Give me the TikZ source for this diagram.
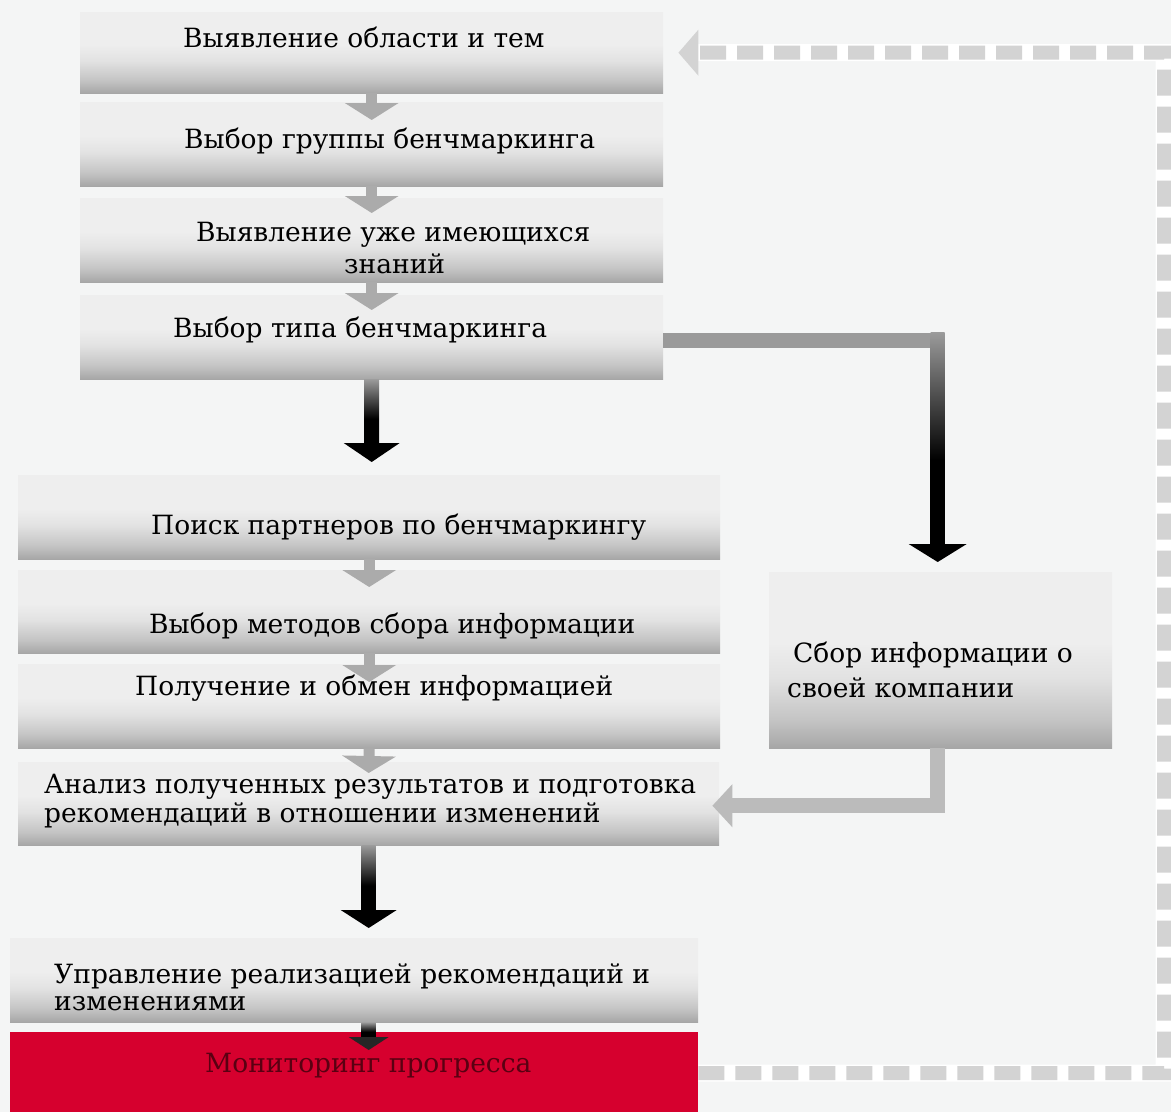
\documentclass[tikz,border=0pt]{standalone}
\usepackage{fontspec}
\setmainfont{DejaVu Serif}
\usetikzlibrary{arrows.meta,calc}
\definecolor{bg}{HTML}{F4F5F5}
\definecolor{boxbot}{HTML}{A6A6A6}
\definecolor{boxlow}{HTML}{C4C4C4}
\definecolor{boxmid}{HTML}{E2E2E2}
\definecolor{boxtop}{HTML}{EEEEEE}
\definecolor{arrgray}{HTML}{9A9A9A}
\definecolor{smallgray}{HTML}{ABABAB}
\definecolor{linkgray}{HTML}{BBBBBB}
\definecolor{dashgray}{HTML}{D3D3D3}
\definecolor{redbox}{HTML}{D6002E}
\definecolor{redtext}{HTML}{5A0012}
\pgfdeclareverticalshading{boxshade}{100bp}{color(0bp)=(boxbot); color(25bp)=(boxbot); color(33bp)=(boxlow); color(45bp)=(boxmid); color(55bp)=(boxtop); color(100bp)=(boxtop)}
\pgfdeclareverticalshading{arrshade}{100bp}{color(0bp)=(black); color(25bp)=(black); color(45bp)=(black); color(75bp)=(arrgray); color(100bp)=(arrgray)}
\tikzset{
  stepbox/.style={rectangle, draw=none, shade, shading=boxshade, inner sep=0pt, anchor=north west},
  redstep/.style={rectangle, draw=none, fill=redbox, inner sep=0pt, anchor=north west},
  lbl/.style={inner sep=0pt, anchor=base west, font=\fontsize{26.5}{30}\selectfont},
  smallarr/.style={draw=smallgray, line width=11pt, -{Triangle[width=53pt,length=17pt]}},
  linkarr/.style={draw=linkgray, line width=15pt, line join=miter, -{Triangle[width=42pt,length=20pt]}},
  fbline/.style={draw=dashgray, line width=14pt, dash pattern=on 26pt off 11pt, -{Triangle[width=45pt,length=20pt]}},
  fbunder/.style={draw=white, line width=17pt, shorten >=16pt},
}
\begin{document}
\begin{tikzpicture}[x=1pt,y=-1pt]
\useasboundingbox (0,0) rectangle (1171,1112);
\fill[bg] (0,0) rectangle (1171,1112);
\clip (0,0) rectangle (1171,1112);

% boxes
\node[stepbox, minimum width=583pt, minimum height=81pt] (b1) at (80,12) {};
\node[stepbox, minimum width=583pt, minimum height=84pt] (b2) at (80,102) {};
\node[stepbox, minimum width=583pt, minimum height=84pt] (b3) at (80,198) {};
\node[stepbox, minimum width=583pt, minimum height=84pt] (b4) at (80,295) {};
\node[stepbox, minimum width=702pt, minimum height=84pt] (b5) at (18,475) {};
\node[stepbox, minimum width=702pt, minimum height=83pt] (b6) at (18,570) {};
\node[stepbox, minimum width=702pt, minimum height=84pt] (b7) at (18,664) {};
\node[stepbox, minimum width=701pt, minimum height=83pt] (b8) at (18,762) {};
\node[stepbox, minimum width=688pt, minimum height=84pt] (b9) at (10,938) {};
\node[redstep, minimum width=688pt, minimum height=82pt] (b10) at (10,1032) {};
\node[stepbox, minimum width=343pt, minimum height=176pt] (b11) at (769,572) {};

% feedback dashed loop
\coordinate (fbA) at (1164,1073);
\coordinate (fbB) at (1164,52.5);
\draw[fbunder] (b10.east) -- (fbA) -- (fbB) -- ($(b1.east)+(15,0)$);
\draw[fbline] (b10.east) -- (fbA) -- (fbB) -- ($(b1.east)+(15,0)$);

% small gray arrows
\draw[smallarr] (b1.south) -- ($(b2.north)+(0,18)$);
\draw[smallarr] (b2.south) -- ($(b3.north)+(0,15)$);
\draw[smallarr] (b3.south) -- ($(b4.north)+(0,15)$);
\draw[smallarr] (b5.south) -- ($(b6.north)+(0,17)$);
\draw[smallarr] (b6.south) -- ($(b7.north)+(0,18)$);
\draw[smallarr] (b7.south) -- ($(b8.north)+(0,11)$);

% black gradient arrow b4 -> b5
\shade[shading=arrshade] ($(b4.south)+(-7.5,0)$) rectangle ($(b4.south |- b5.north)+(7.5,-30)$);
\fill[black] ($(b4.south |- b5.north)+(-28,-32)$) -- ($(b4.south |- b5.north)+(28,-32)$) -- ($(b4.south |- b5.north)+(0,-13)$) -- cycle;

% black gradient arrow b8 -> b9
\shade[shading=arrshade] ($(b8.south)+(-7,0)$) rectangle ($(b8.south |- b9.north)+(7,-26)$);
\fill[black] ($(b8.south |- b9.north)+(-28,-28)$) -- ($(b8.south |- b9.north)+(28,-28)$) -- ($(b8.south |- b9.north)+(0,-10)$) -- cycle;

% black arrow b9 -> b10
\shade[shading=arrshade] ($(b8.south |- b9.south)+(-7,0)$) rectangle ($(b8.south |- b10.north)+(7,6)$);
\fill[black!85] ($(b8.south |- b10.north)+(-20,5)$) -- ($(b8.south |- b10.north)+(20,5)$) -- ($(b8.south |- b10.north)+(0,18)$) -- cycle;

% b4 -> b11 connector
\fill[arrgray] ($(b4.east)+(0,-4.5)$) rectangle ($(b4.east -| b11.north)+(4,10.5)$);
\shade[shading=arrshade] ($(b4.east -| b11.north)+(-10,-4.5)$) rectangle ($(b11.north)+(4,-27)$);
\fill[black] ($(b11.north)+(-32,-28)$) -- ($(b11.north)+(26,-28)$) -- ($(b11.north)+(-3,-10)$) -- cycle;

% b11 -> b8 connector
\draw[linkarr] ($(b11.south)+(-3,0)$) |- ($(b8.east)+(-7,2)$);

% labels
\node[lbl] (t1) at (183,47) {Выявление области и тем};
\node[lbl] (t2) at (184,148) {Выбор группы бенчмаркинга};
\node[lbl] (t3a) at (196,241) {Выявление уже имеющихся};
\node[lbl] (t3b) at (344,273) {знаний};
\node[lbl] (t4) at (173,337) {Выбор типа бенчмаркинга};
\node[lbl] (t5) at (151,534) {Поиск партнеров по бенчмаркингу};
\node[lbl] (t6) at (149,633) {Выбор методов сбора информации};
\node[lbl] (t7) at (135,695) {Получение и обмен информацией};
\node[lbl] (t8a) at (44,793) {Анализ полученных результатов и подготовка};
\node[lbl] (t8b) at (44,822) {рекомендаций в отношении изменений};
\node[lbl] (t9a) at (54,983) {Управление реализацией рекомендаций и};
\node[lbl] (t9b) at (54,1010) {изменениями};
\node[lbl, text=redtext] (t10) at (205,1072) {Мониторинг прогресса};
\node[lbl] (t11a) at (793,662) {Сбор информации о};
\node[lbl] (t11b) at (787,697) {своей компании};
\end{tikzpicture}
\end{document}
